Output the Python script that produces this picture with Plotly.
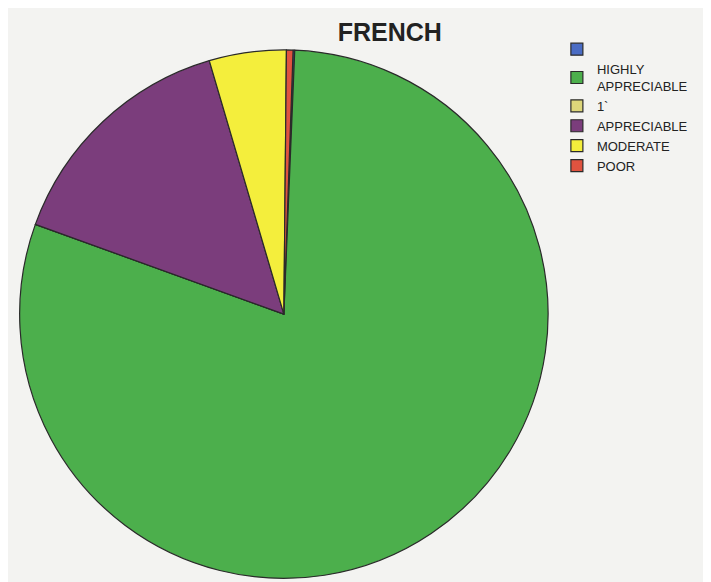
import plotly.graph_objects as go

labels = [" ", "HIGHLY<br>APPRECIABLE", "1`", "APPRECIABLE", "MODERATE", "POOR"]
values = [0.1, 79.7, 0.0, 14.9, 4.7, 0.4]
colors = ["#4a6cc4", "#4caf4c", "#ddd67a", "#7b3d7c", "#f4ee3c", "#e0533f"]

fig = go.Figure(go.Pie(
    labels=labels,
    values=values,
    sort=False,
    direction="clockwise",
    rotation=2,
    textinfo="none",
    hoverinfo="label+percent",
    marker=dict(colors=colors, line=dict(color="#2a2a2a", width=1.2)),
    domain=dict(x=[0.016, 0.76], y=[0.02, 0.928]),
))

fig.update_layout(
    width=711, height=582,
    margin=dict(l=0, r=0, t=0, b=0),
    paper_bgcolor="#f3f3f1",
    plot_bgcolor="#f3f3f1",
    title=dict(text="<b>FRENCH</b>", x=0.537, xanchor="center", y=0.958, yanchor="middle",
               font=dict(family="Liberation Sans, Arial", size=25, color="#222")),
    legend=dict(x=0.772, y=0.955, xanchor="left", yanchor="top",
                font=dict(family="Liberation Sans, Arial", size=13, color="#222"),
                tracegroupgap=0, itemwidth=30, bgcolor="rgba(0,0,0,0)"),
    showlegend=True,
)

fig.write_html("out.html")
